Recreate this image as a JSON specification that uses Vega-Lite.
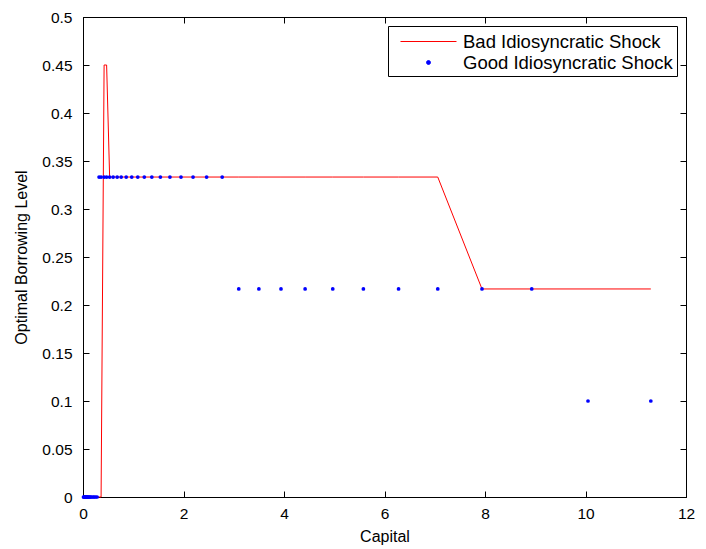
{
  "$schema": "https://vega.github.io/schema/vega-lite/v6.json",
  "width": 603,
  "height": 480,
  "autosize": {"type": "none"},
  "padding": {"left": 83, "top": 17, "right": 20, "bottom": 52},
  "background": "white",
  "config": {
    "font": "Liberation Sans",
    "view": {"stroke": "black", "strokeWidth": 1},
    "axis": {
      "grid": false,
      "labelFlush": false,
      "domainColor": "black",
      "domainWidth": 1,
      "tickColor": "black",
      "tickWidth": 1,
      "tickSize": -6,
      "labelColor": "black",
      "labelFont": "Liberation Sans",
      "labelFontSize": 15.5,
      "titleColor": "black",
      "titleFont": "Liberation Sans",
      "titleFontSize": 16,
      "titleFontWeight": "normal"
    },
    "legend": {
      "title": null,
      "orient": "top-right",
      "offset": 9,
      "strokeColor": "black",
      "strokeWidth": 1,
      "fillColor": "white",
      "cornerRadius": 0,
      "padding": 4,
      "labelFont": "Liberation Sans",
      "labelFontSize": 18.5,
      "labelColor": "black",
      "labelLimit": 400,
      "labelOffset": 48,
      "symbolSize": 484,
      "symbolStrokeWidth": 1,
      "rowPadding": 0
    }
  },
  "datasets": {
    "bad": [
      {"capital": 0.01, "borrowing": 0}, {"capital": 0.02, "borrowing": 0}, {"capital": 0.03, "borrowing": 0},
      {"capital": 0.04, "borrowing": 0}, {"capital": 0.05, "borrowing": 0}, {"capital": 0.06, "borrowing": 0},
      {"capital": 0.07, "borrowing": 0}, {"capital": 0.08, "borrowing": 0}, {"capital": 0.09, "borrowing": 0},
      {"capital": 0.10, "borrowing": 0}, {"capital": 0.12, "borrowing": 0}, {"capital": 0.13, "borrowing": 0},
      {"capital": 0.15, "borrowing": 0}, {"capital": 0.17, "borrowing": 0}, {"capital": 0.20, "borrowing": 0},
      {"capital": 0.22, "borrowing": 0}, {"capital": 0.25, "borrowing": 0}, {"capital": 0.28, "borrowing": 0},
      {"capital": 0.32, "borrowing": 0}, {"capital": 0.36, "borrowing": 0},
      {"capital": 0.42, "borrowing": 0.45}, {"capital": 0.47, "borrowing": 0.45},
      {"capital": 0.53, "borrowing": 0.3333}, {"capital": 0.60, "borrowing": 0.3333}, {"capital": 0.68, "borrowing": 0.3333},
      {"capital": 0.76, "borrowing": 0.3333}, {"capital": 0.86, "borrowing": 0.3333}, {"capital": 0.97, "borrowing": 0.3333},
      {"capital": 1.09, "borrowing": 0.3333}, {"capital": 1.22, "borrowing": 0.3333}, {"capital": 1.37, "borrowing": 0.3333},
      {"capital": 1.54, "borrowing": 0.3333}, {"capital": 1.73, "borrowing": 0.3333}, {"capital": 1.95, "borrowing": 0.3333},
      {"capital": 2.19, "borrowing": 0.3333}, {"capital": 2.46, "borrowing": 0.3333}, {"capital": 2.77, "borrowing": 0.3333},
      {"capital": 3.10, "borrowing": 0.3333}, {"capital": 3.50, "borrowing": 0.3333}, {"capital": 3.94, "borrowing": 0.3333},
      {"capital": 4.42, "borrowing": 0.3333}, {"capital": 4.97, "borrowing": 0.3333}, {"capital": 5.58, "borrowing": 0.3333},
      {"capital": 6.28, "borrowing": 0.3333}, {"capital": 7.06, "borrowing": 0.3333},
      {"capital": 7.94, "borrowing": 0.2167}, {"capital": 8.93, "borrowing": 0.2167}, {"capital": 10.05, "borrowing": 0.2167},
      {"capital": 11.30, "borrowing": 0.2167}
    ],
    "good": [
      {"capital": 0.01, "borrowing": 0}, {"capital": 0.02, "borrowing": 0}, {"capital": 0.03, "borrowing": 0},
      {"capital": 0.04, "borrowing": 0}, {"capital": 0.05, "borrowing": 0}, {"capital": 0.06, "borrowing": 0},
      {"capital": 0.07, "borrowing": 0}, {"capital": 0.08, "borrowing": 0}, {"capital": 0.09, "borrowing": 0},
      {"capital": 0.10, "borrowing": 0}, {"capital": 0.12, "borrowing": 0}, {"capital": 0.13, "borrowing": 0},
      {"capital": 0.15, "borrowing": 0}, {"capital": 0.17, "borrowing": 0}, {"capital": 0.20, "borrowing": 0},
      {"capital": 0.22, "borrowing": 0}, {"capital": 0.25, "borrowing": 0}, {"capital": 0.28, "borrowing": 0},
      {"capital": 0.32, "borrowing": 0.3333}, {"capital": 0.36, "borrowing": 0.3333},
      {"capital": 0.42, "borrowing": 0.3333}, {"capital": 0.47, "borrowing": 0.3333},
      {"capital": 0.53, "borrowing": 0.3333}, {"capital": 0.60, "borrowing": 0.3333}, {"capital": 0.68, "borrowing": 0.3333},
      {"capital": 0.76, "borrowing": 0.3333}, {"capital": 0.86, "borrowing": 0.3333}, {"capital": 0.97, "borrowing": 0.3333},
      {"capital": 1.09, "borrowing": 0.3333}, {"capital": 1.22, "borrowing": 0.3333}, {"capital": 1.37, "borrowing": 0.3333},
      {"capital": 1.54, "borrowing": 0.3333}, {"capital": 1.73, "borrowing": 0.3333}, {"capital": 1.95, "borrowing": 0.3333},
      {"capital": 2.19, "borrowing": 0.3333}, {"capital": 2.46, "borrowing": 0.3333}, {"capital": 2.77, "borrowing": 0.3333},
      {"capital": 3.10, "borrowing": 0.2167}, {"capital": 3.50, "borrowing": 0.2167}, {"capital": 3.94, "borrowing": 0.2167},
      {"capital": 4.42, "borrowing": 0.2167}, {"capital": 4.97, "borrowing": 0.2167}, {"capital": 5.58, "borrowing": 0.2167},
      {"capital": 6.28, "borrowing": 0.2167}, {"capital": 7.06, "borrowing": 0.2167},
      {"capital": 7.94, "borrowing": 0.2167}, {"capital": 8.93, "borrowing": 0.2167},
      {"capital": 10.05, "borrowing": 0.1}, {"capital": 11.30, "borrowing": 0.1}
    ]
  },
  "layer": [
    {
      "data": {"name": "bad"},
      "mark": {"type": "line", "strokeWidth": 1, "interpolate": "linear"},
      "encoding": {
        "x": {
          "field": "capital", "type": "quantitative",
          "scale": {"domain": [0, 12], "nice": false, "zero": false},
          "axis": {"orient": "bottom", "values": [0, 2, 4, 6, 8, 10, 12], "title": "Capital", "labelPadding": 15, "titlePadding": 7}
        },
        "y": {
          "field": "borrowing", "type": "quantitative",
          "scale": {"domain": [0, 0.5], "nice": false},
          "axis": {
            "orient": "left",
            "values": [0, 0.05, 0.1, 0.15, 0.2, 0.25, 0.3, 0.35, 0.4, 0.45, 0.5],
            "format": "~g",
            "title": "Optimal Borrowing Level",
            "labelPadding": 17,
            "titlePadding": 12
          }
        },
        "color": {
          "datum": "Bad Idiosyncratic Shock",
          "type": "nominal",
          "scale": {"domain": ["Bad Idiosyncratic Shock", "Good Idiosyncratic Shock"], "range": ["#ff0000", "#0000ff"]},
          "legend": {
            "encode": {
              "symbols": {
                "update": {
                  "shape": {"signal": "datum.value === 'Good Idiosyncratic Shock' ? 'M2.091,0A0.182,0.182 0 1,0 2.455,0A0.182,0.182 0 1,0 2.091,0Z' : 'M-0.273,0H4.818'"},
                  "size": {"value": 484},
                  "fill": {"signal": "datum.value === 'Good Idiosyncratic Shock' ? '#0000ff' : 'transparent'"},
                  "stroke": {"signal": "datum.value === 'Good Idiosyncratic Shock' ? 'transparent' : '#ff0000'"},
                  "strokeWidth": {"value": 1}
                }
              }
            }
          }
        }
      }
    },
    {
      "data": {"name": "good"},
      "mark": {"type": "point", "filled": true, "shape": "circle", "size": 14, "opacity": 1},
      "encoding": {
        "x": {
          "field": "capital", "type": "quantitative",
          "axis": {"orient": "top", "values": [0, 2, 4, 6, 8, 10, 12], "labels": false, "title": null, "domain": false}
        },
        "y": {
          "field": "borrowing", "type": "quantitative",
          "axis": {"orient": "right", "values": [0, 0.05, 0.1, 0.15, 0.2, 0.25, 0.3, 0.35, 0.4, 0.45, 0.5], "labels": false, "title": null, "domain": false}
        },
        "color": {"datum": "Good Idiosyncratic Shock", "type": "nominal"}
      }
    }
  ],
  "resolve": {"axis": {"x": "independent", "y": "independent"}}
}
